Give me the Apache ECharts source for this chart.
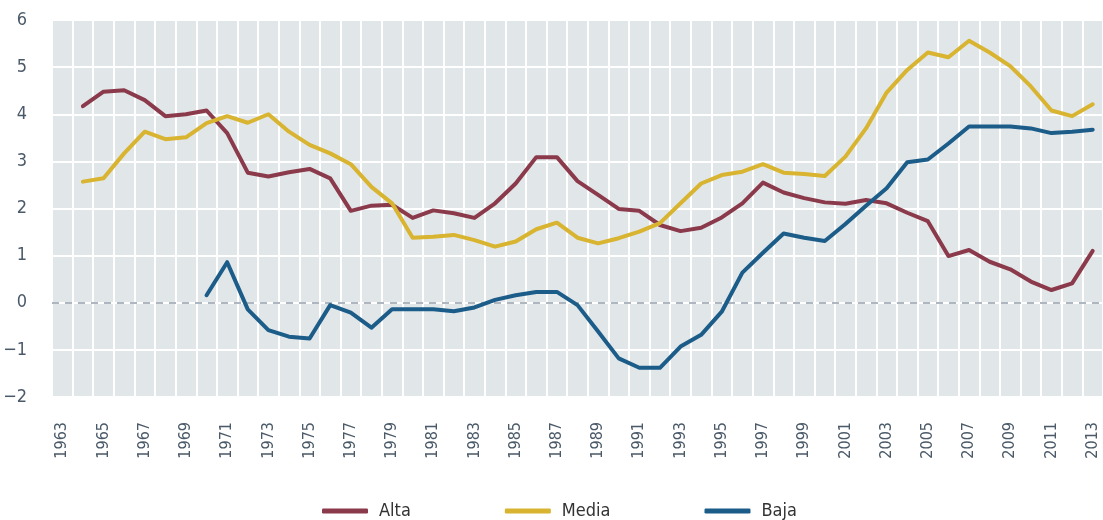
<!DOCTYPE html>
<html><head><meta charset="utf-8">
<script src="https://cdn.jsdelivr.net/npm/echarts@6/dist/echarts.min.js"></script>
<style>html,body{margin:0;padding:0;background:#fff}#c{width:1103px;height:520px}</style>
</head><body><div id="c"></div>
<script>
const years = [];
for (let y = 1963; y <= 2013; y++) years.push(String(y));
const yTicks = [-2, -1, 0, 1, 2, 3, 4, 5, 6];
const alta = [null,4.17,4.48,4.51,4.30,3.96,4.00,4.08,3.60,2.76,2.68,2.77,2.84,2.64,1.95,2.06,2.08,
  1.80,1.96,1.90,1.80,2.11,2.53,3.09,3.09,2.58,2.29,1.99,1.95,1.65,1.52,1.59,1.81,
  2.11,2.55,2.34,2.22,2.13,2.10,2.18,2.11,1.91,1.73,0.99,1.12,0.87,0.71,0.45,0.27,0.41,1.10];
const media = [null,2.57,2.64,3.17,3.63,3.47,3.51,3.81,3.96,3.82,4.00,3.63,3.35,3.17,2.94,2.46,2.11,
  1.38,1.40,1.44,1.33,1.19,1.30,1.56,1.70,1.38,1.26,1.37,1.51,1.69,2.11,2.53,2.71,
  2.78,2.94,2.76,2.73,2.69,3.10,3.70,4.46,4.94,5.31,5.21,5.56,5.31,5.02,4.59,4.08,3.96,4.21];
const baja = [null,null,null,null,null,null,null,0.16,0.86,-0.14,-0.58,-0.72,-0.76,-0.05,-0.21,-0.53,-0.14,
  -0.14,-0.14,-0.18,-0.10,0.06,0.16,0.23,0.23,-0.05,-0.61,-1.18,-1.38,-1.38,-0.93,-0.68,-0.19,
  0.64,1.06,1.47,1.38,1.31,1.67,2.06,2.43,2.98,3.04,3.38,3.74,3.74,3.74,3.70,3.60,3.63,3.67];

const FONT = "'DejaVu Sans Condensed','Liberation Sans Narrow','Roboto Condensed',sans-serif";
const chart = echarts.init(document.getElementById('c'), null, {renderer: 'canvas'});
const mk = (name, data, color) => ({
  name, type: 'line', data, symbol: 'none', smooth: false, connectNulls: false,
  lineStyle: {color, width: 4, cap: 'round', join: 'round'}, itemStyle: {color},
  animation: false, z: 3
});
const s1 = mk('Alta', alta, '#8b3a4b');
const s2 = mk('Media', media, '#d8b430');
const s3 = mk('Baja', baja, '#1b5c89');
s1.markLine = {silent: true, symbol: 'none', label: {show: false},
  lineStyle: {color: '#949eaa', width: 1.5, type: [7, 6]}, data: [{yAxis: 0}], z: 2};
chart.setOption({
  animation: false,
  grid: {left: 52, right: 0, top: 20, bottom: 123, show: true, backgroundColor: '#e1e6e9', borderWidth: 0},
  xAxis: {
    type: 'category', data: years, boundaryGap: true,
    axisLine: {show: false}, axisTick: {show: false},
    axisLabel: {interval: 1, rotate: 90, margin: 25, color: '#4b5a69', fontSize: 16, fontFamily: FONT},
    splitLine: {show: true, interval: 0, lineStyle: {color: '#ffffff', width: 2}}
  },
  yAxis: {
    type: 'value', min: yTicks[0], max: yTicks[yTicks.length - 1], interval: 1,
    axisLine: {show: false}, axisTick: {show: false},
    axisLabel: {margin: 25, color: '#4b5a69', fontSize: 18, fontFamily: FONT,
      formatter: v => String(v).replace('-', '\u2212')},
    splitLine: {show: true, lineStyle: {color: '#ffffff', width: 2}}
  },
  legend: {
    left: 317, top: 497, itemWidth: 46, itemHeight: 5, itemGap: 94, icon: 'roundRect',
    textStyle: {fontSize: 18, color: '#333', fontFamily: FONT, padding: [0, 0, 0, 6]},
    data: ['Alta', 'Media', 'Baja']
  },
  series: [s1, s2, s3]
});
</script></body></html>
